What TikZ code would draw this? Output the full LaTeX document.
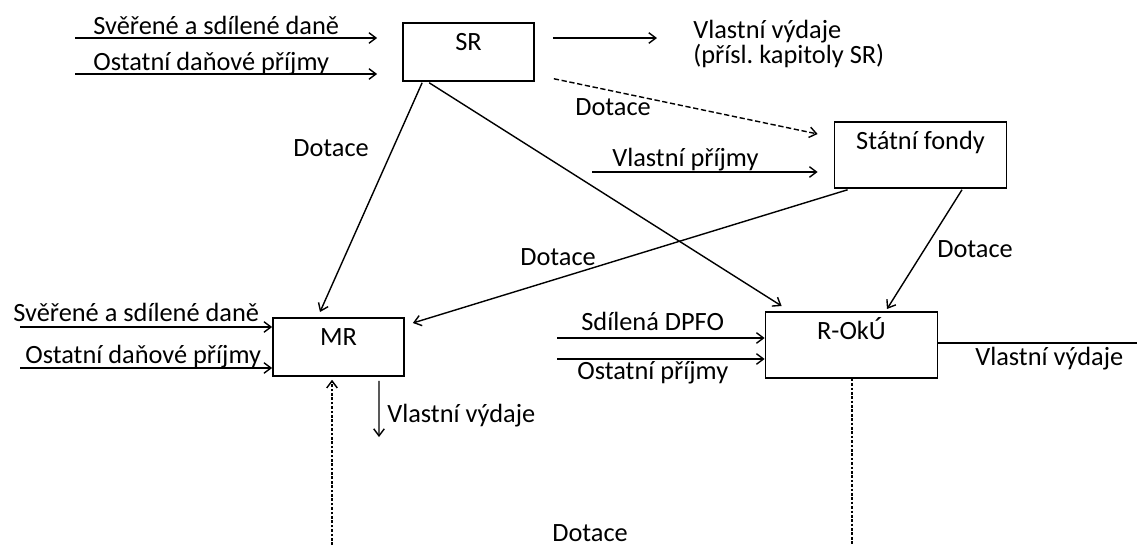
\documentclass[tikz,border=0pt]{standalone}
\usepackage{fontspec}
\setmainfont{Carlito}
\usepackage{tikz}
\usetikzlibrary{positioning,calc,arrows.meta}
\tikzset{
  >={Straight Barb[length=4pt,width=6pt]},
  flow/.style={->, draw, black, line width=0.8pt},
  dashflow/.style={->, draw, black, line width=0.8pt, dash pattern=on 3pt off 1.5pt},
  dotflow/.style={draw, black, line width=0.8pt, dash pattern=on 1.5pt off 1pt},
}
\frenchspacing

\begin{document}
\begin{tikzpicture}[x=0.02cm,y=-0.02cm,
            box/.style={rectangle,draw=black,line width=1pt,inner sep=0pt,anchor=north,text height=0.56cm,font=\fontsize{15}{18}\selectfont},
            small/.style={box, minimum width=2.62cm, text depth=0.6cm},
            large/.style={box, minimum width=3.44cm, text depth=0.76cm},
            lbl/.style={anchor=base west,inner sep=0pt,font=\fontsize{15}{18}\selectfont}]
            \useasboundingbox (0,0) rectangle (1137,545);

            % boxes
            \node (SR)[small] at (468.5,22) {SR};
            \node (SF)[large] at (920.5,121) {Státní fondy};
            \node (MR)[small] at (338.5,317) {MR};
            \node (ROKU)[large] at (851.5,311) {R-OkÚ};

            % labels
            \node (srIn1)[lbl] at (93,34) {Svěřené a sdílené daně};
            \node (srIn2)[lbl] at (93,70) {Ostatní daňové příjmy};
            \node (srOut)[lbl] at (693,38) {Vlastní výdaje};
            \node (srOut2)[lbl] at (693,63) {(přísl. kapitoly SR)};
            \node (dotSF)[lbl] at (575,115) {Dotace};
            \node (dotMR)[lbl] at (293,156) {Dotace};
            \node (sfIn)[lbl] at (612,166) {Vlastní příjmy};
            \node (dotSFR)[lbl] at (937,257) {Dotace};
            \node (dotSFM)[lbl] at (520,265) {Dotace};
            \node (mrIn1)[lbl] at (13,321) {Svěřené a sdílené daně};
            \node (mrIn2)[lbl] at (25,363) {Ostatní daňové příjmy};
            \node (mrOut)[lbl] at (387,422) {Vlastní výdaje};
            \node (rIn1)[lbl] at (581,330) {Sdílená DPFO};
            \node (rIn2)[lbl] at (577,379) {Ostatní příjmy};
            \node (rOut)[lbl] at (975,365) {Vlastní výdaje};
            \node (dotRM)[lbl] at (552,541) {Dotace};

            % free ends
            \coordinate (a1) at (75,38);
            \coordinate (a2) at (75,74);
            \coordinate (b1) at (20,327);
            \coordinate (b2) at (20,368);
            \coordinate (c1) at (557,338);
            \coordinate (c2) at (557,359);
            \coordinate (d1) at (592,172);
            \coordinate (e1) at (657,38);
            \coordinate (e2) at (379,437);
            \coordinate (f1) at (332,545);
            \coordinate (f2) at (852,545);
            \coordinate (g1) at (1137,343);

            \draw [flow] (a1) -- ($(SR.west |- a1)+(-25,0)$);
            \draw [flow] (a2) -- ($(SR.west |- a2)+(-25,0)$);
            \draw [flow] ($(SR.east |- e1)+(18,0)$) -- (e1);
            \draw [dashflow] ($(SR.south east)+(19,-3)$) -- ($(SF.north west)+(-16,13)$);
            \draw [flow] (d1) -- ($(SF.west |- d1)+(-16,0)$);
            \draw [flow] ($(SR.south west)+(20,1)$) -- ($(MR.north)+(-18.5,-5)$);
            \draw [flow] ($(SR.south west)+(27,1)$) -- ($(ROKU.north west)+(17,-5)$);
            \draw [flow] ($(SF.south west)+(14,1)$) -- ($(MR.north east)+(8,6)$);
            \draw [flow] ($(SF.south)+(41.5,1)$) -- ($(ROKU.north)+(35.5,-2)$);
            \draw [flow] (b1) -- (b1 -| MR.west);
            \draw [flow] (b2) -- (b2 -| MR.west);
            \draw [flow] ($(MR.south)+(40.5,4)$) -- (e2);
            \draw [dotflow,->] (f1) -- ($(MR.south)+(-6.5,3)$);
            \draw [flow] (c1) -- (c1 -| ROKU.west);
            \draw [flow] (c2) -- (c2 -| ROKU.west);
            \draw [dotflow] (ROKU.south -| f2) -- (f2);
            \draw [line width=0.8pt] (ROKU.east |- g1) -- (g1);

         \end{tikzpicture}
\end{document}
